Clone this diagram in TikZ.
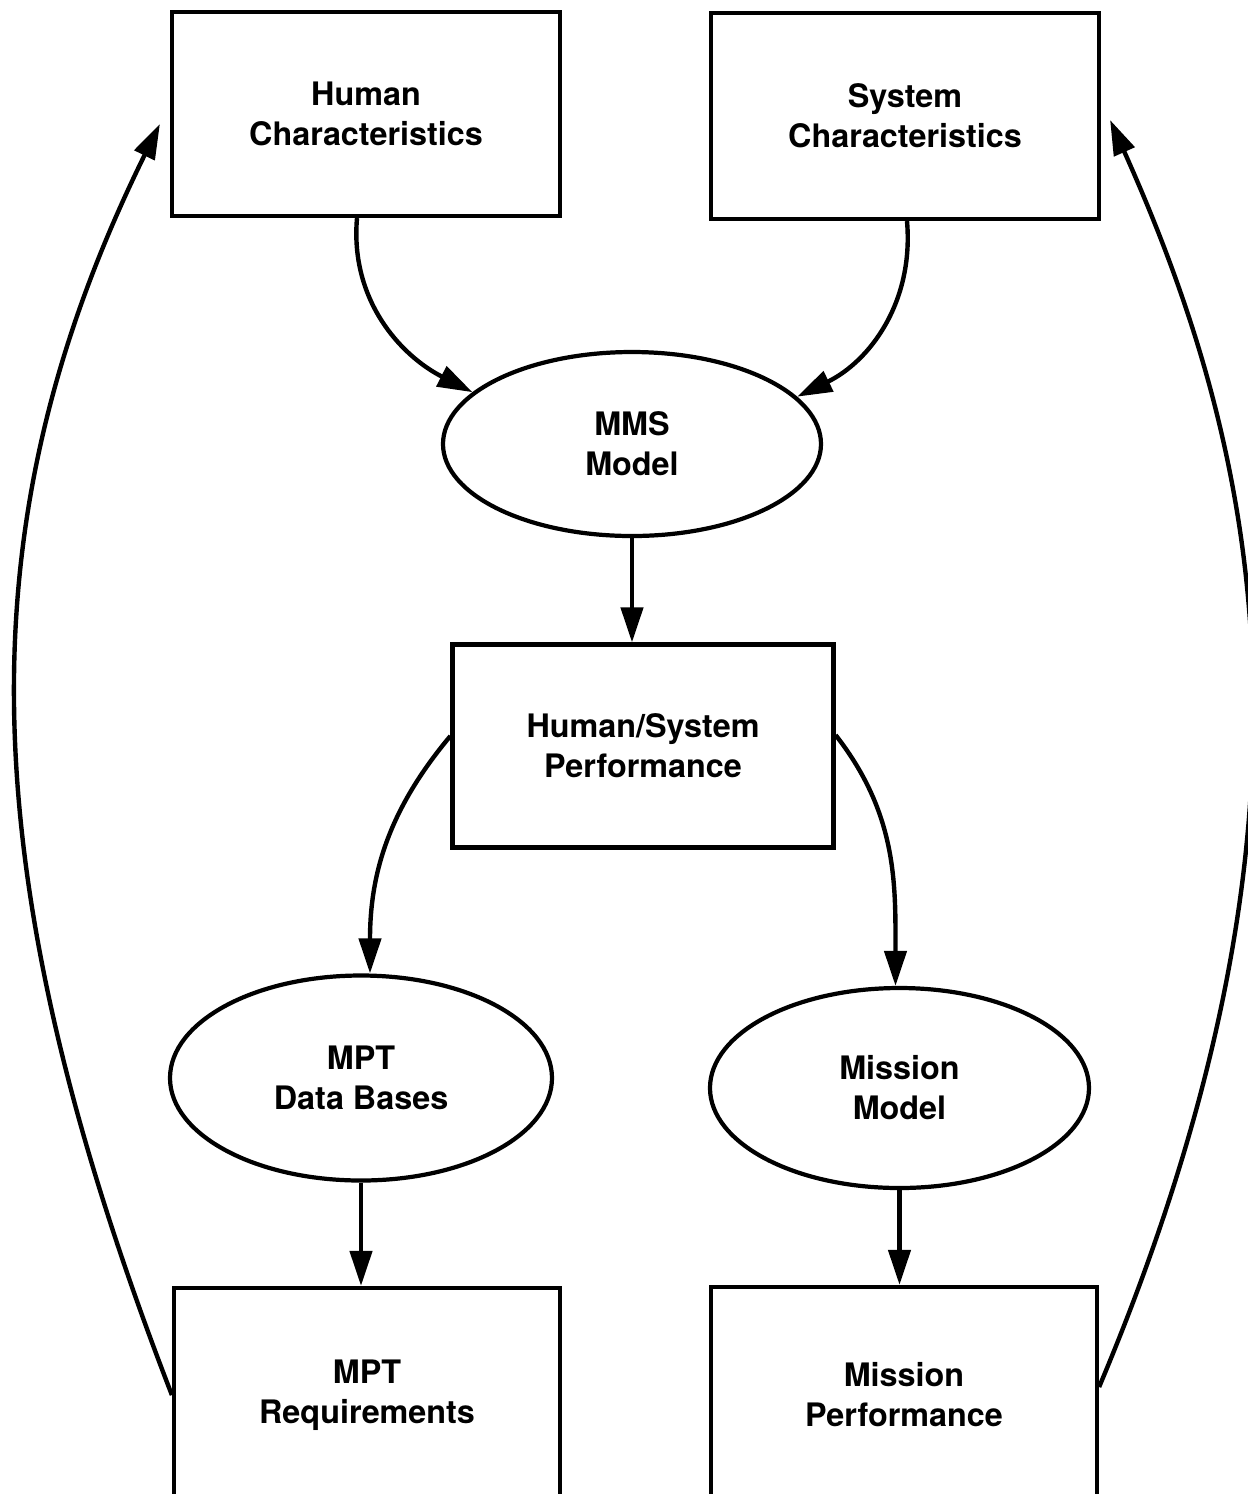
\documentclass[tikz,border=0pt]{standalone}
\usepackage{fontspec}
\setmainfont{TeX Gyre Heros}
\usepackage{tikz}
\usetikzlibrary{arrows.meta,shapes.geometric,calc}
\tikzset{
	block/.style={draw, line width=1.2pt, align=center, inner sep=4pt},
	oval/.style={draw, ellipse, line width=1.2pt, align=center, inner sep=2pt},
	arrow/.style={-{Triangle[length=3.5mm,width=2.2mm]}, line width=1.25pt},
	lbl/.style={font=\fontsize{9.2}{11.4}\selectfont\bfseries}
}
\begin{document}
\begin{tikzpicture}[x=1cm, y=1cm]
			\clip (0,0) rectangle (12.48,-14.94);
			
			% top row
			\node[block, lbl, minimum width=3.88cm, minimum height=2.04cm] (hc) at (3.66,-1.14)
			{Human\\Characteristics};
			\node[block, lbl, minimum width=3.88cm, minimum height=2.06cm] (sc) at (9.05,-1.16)
			{System\\Characteristics};
			
			\node[oval, lbl, minimum width=3.78cm, minimum height=1.84cm] (mms) at (6.32,-4.44)
			{MMS\\Model};
			
			\node[block, lbl, minimum width=3.81cm, minimum height=2.03cm] (hsp) at (6.43,-7.46)
			{Human/System\\Performance};
			
			% two branches
			\node[oval, lbl, minimum width=3.82cm, minimum height=2.05cm] (mptdb) at (3.61,-10.78)
			{MPT\\Data Bases};
			\node[oval, lbl, minimum width=3.79cm, minimum height=2.00cm] (mm) at (8.995,-10.88)
			{Mission\\Model};
			
			\node[block, lbl, minimum width=3.86cm, minimum height=2.14cm] (mptreq) at (3.67,-13.95)
			{MPT\\Requirements};
			\node[block, lbl, minimum width=3.86cm, minimum height=2.16cm] (mp) at (9.04,-13.95)
			{Mission\\Performance};
			
			\draw[arrow] ([xshift=-0.9mm]hc.south) to[out=-95, in=153] (mms.162);
			\draw[arrow] ([xshift=0.2mm]sc.south) to[out=-85, in=26] (mms.16);
			\draw[arrow] (mms.south) -- (mms.south |- hsp.north);
			
			\draw[arrow] ([yshift=1mm]hsp.west) to[out=230, in=90] ([xshift=0.9mm]mptdb.north);
			\draw[arrow] ([yshift=1.1mm]hsp.east) to[out=-52, in=90] ([xshift=-0.4mm]mm.north);
			
			\draw[arrow] (mptdb.south) -- (mptdb.south |- mptreq.north);
			\draw[arrow] (mm.south) -- (mm.south |- mp.north);
			
			% feedback loops
			\draw[arrow] (mptreq.west) .. controls +(-2.1,5.42) and +(-1.9,-3.86) .. ([xshift=-1mm,yshift=-1mm]hc.west);
			\draw[arrow] ([yshift=0.8mm]mp.east) .. controls +(2.4,5.7) and +(1.5,-3.35) .. ([xshift=0.9mm,yshift=-0.4mm]sc.east);
		\end{tikzpicture}
\end{document}
